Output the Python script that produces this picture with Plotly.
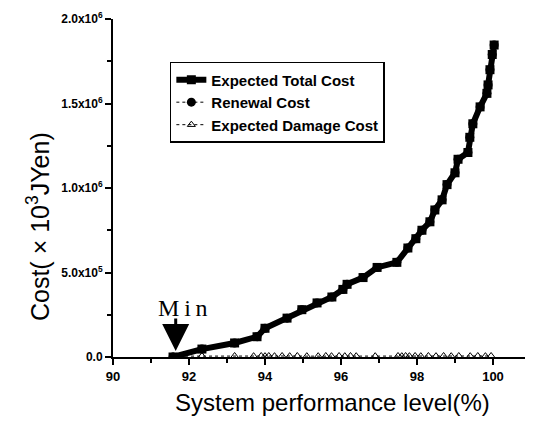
import plotly.graph_objects as go

# System performance level (%) and costs (x10^3 JYen)
total_x = [91.58, 92.34, 93.2, 93.79, 94.0, 94.58, 94.97, 95.37, 95.76, 96.05, 96.16, 96.58,
           96.95, 97.47, 97.76, 97.97, 98.13, 98.34, 98.47, 98.66, 98.79, 99.0, 99.08,
           99.34, 99.39, 99.47, 99.66, 99.84, 99.87, 99.92, 99.98, 100.03]
total_y = [0, 47000, 83000, 120000, 170000, 230000, 280000, 320000, 355000, 400000, 430000, 470000,
           530000, 560000, 645000, 700000, 750000, 800000, 870000, 930000, 1020000, 1090000, 1170000,
           1210000, 1300000, 1380000, 1480000, 1560000, 1610000, 1700000, 1790000, 1846000]

renewal_x = total_x
renewal_y = total_y

damage_x = [91.58, 92.34, 93.2, 93.7, 93.9, 94.0, 94.1, 94.25, 94.45, 94.65, 94.85, 95.1,
            95.4, 95.6, 95.75, 95.95, 96.1, 96.25, 96.4, 96.9, 97.5, 97.6, 97.7, 97.8,
            97.95, 98.1, 98.3, 98.5, 98.7, 98.9, 99.1, 99.4, 99.6, 99.8, 99.95]
damage_y = [5000, 6000, 6000, 5000, 6000, 5000, 6000, 5000, 6000, 5000, 6000, 5000,
            5000, 6000, 5000, 6000, 5000, 6000, 5000, 5000, 6000, 5000, 6000, 5000,
            6000, 5000, 6000, 5000, 6000, 5000, 6000, 5000, 6000, 5000, 6000]

y_tickvals = [0, 500000, 1000000, 1500000, 2000000]
y_ticktext = ["<b>0.0</b>", "<b>5.0x10<sup>5</sup></b>", "<b>1.0x10<sup>6</sup></b>",
              "<b>1.5x10<sup>6</sup></b>", "<b>2.0x10<sup>6</sup></b>"]
x_tickvals = [90, 92, 94, 96, 98, 100]
x_ticktext = ["<b>%d</b>" % v for v in x_tickvals]

fig = go.Figure()
fig.add_trace(go.Scatter(x=total_x, y=total_y, mode="lines+markers", name="<b>Expected Total Cost</b>",
                         line=dict(color="black", width=6),
                         marker=dict(symbol="square", size=9, color="black")))
fig.add_trace(go.Scatter(x=renewal_x, y=renewal_y, mode="lines+markers", name="<b>Renewal Cost</b>",
                         line=dict(color="black", width=1, dash="dot"),
                         marker=dict(symbol="circle", size=9, color="black")))
fig.add_trace(go.Scatter(x=damage_x, y=damage_y, mode="lines+markers", name="<b>Expected Damage Cost</b>",
                         line=dict(color="black", width=1, dash="dot"),
                         marker=dict(symbol="triangle-up-open", size=7, color="black",
                                     line=dict(width=1, color="black"))))

fig.add_annotation(x=91.65, y=35000, ax=0, ay=-34, xref="x", yref="y",
                   text="", showarrow=True, arrowhead=2, arrowsize=1.8, arrowwidth=3,
                   arrowcolor="black")
fig.add_annotation(x=91.85, y=0.29e6, xref="x", yref="y", text="M\u2009i\u2009n", showarrow=False,
                   xanchor="center", yanchor="middle",
                   font=dict(family="Liberation Serif", size=24, color="black"))

# axis titles
fig.add_annotation(x=-0.179, y=0.385, xref="paper", yref="paper", textangle=-90,
                   xanchor="center", yanchor="middle",
                   text="Cost( × 10<sup>3</sup>JYen)", showarrow=False,
                   font=dict(size=25, color="black"))
fig.add_annotation(x=0.524, y=-0.136, xref="paper", yref="paper",
                   xanchor="center", yanchor="middle",
                   text="System performance level(%)", showarrow=False,
                   font=dict(size=24, color="black"))

# page body has an 8px offset, so the figure is sized 525x420
fig.update_layout(
    width=525, height=420,
    margin=dict(l=105, r=2, t=11, b=71),
    paper_bgcolor="white", plot_bgcolor="white",
    font=dict(family="Liberation Sans, Arial, sans-serif", color="black"),
    showlegend=True,
    legend=dict(x=0.136, y=0.873, xanchor="left", yanchor="top",
                bordercolor="black", borderwidth=1.5, bgcolor="white",
                font=dict(size=15, color="black"), tracegroupgap=0,
                itemwidth=30),
)
fig.update_xaxes(range=[90, 101], automargin=False, showline=True, linecolor="black", linewidth=2,
                 showgrid=False, zeroline=False,
                 tickmode="array", tickvals=x_tickvals, ticktext=x_ticktext,
                 ticks="outside", ticklen=6, tickwidth=1.5, tickcolor="black",
                 minor=dict(tickmode="linear", tick0=90, dtick=1, ticks="outside", ticklen=4,
                            tickcolor="black", showgrid=False),
                 tickfont=dict(size=13))
fig.update_yaxes(range=[0, 2000000], automargin=False, showline=True, linecolor="black", linewidth=2,
                 showgrid=False, zeroline=False,
                 tickmode="array", tickvals=y_tickvals, ticktext=y_ticktext,
                 ticks="outside", ticklen=6, tickwidth=1.5, tickcolor="black",
                 minor=dict(tickmode="linear", tick0=0, dtick=250000, ticks="outside", ticklen=4,
                            tickcolor="black", showgrid=False),
                 tickfont=dict(size=12))

fig.write_html("out.html")
